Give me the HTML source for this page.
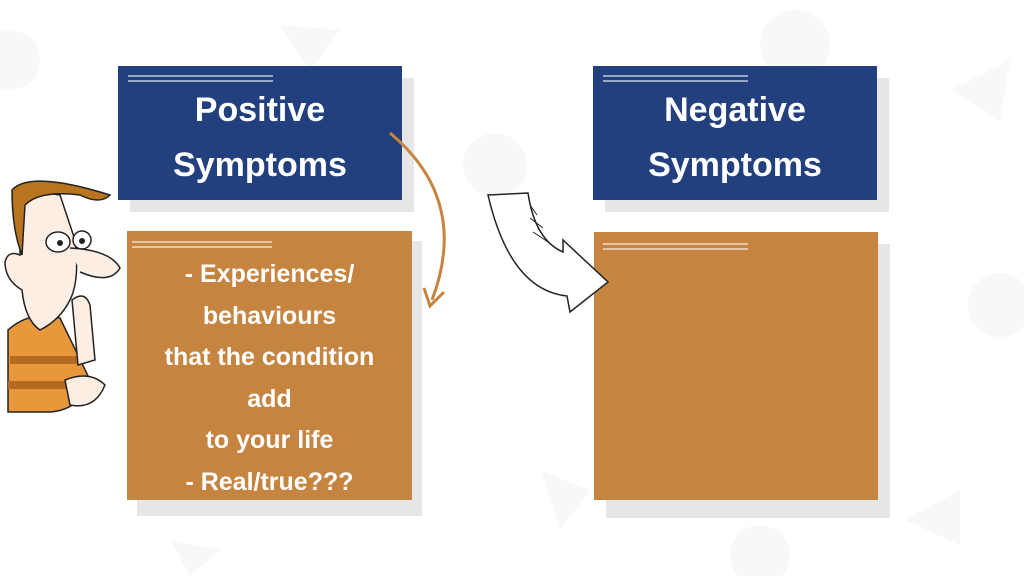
<!DOCTYPE html>
<html><head><style>
body{margin:0;width:1024px;height:576px;background:#fff;position:relative;overflow:hidden;font-family:"Liberation Sans",sans-serif}
.b{position:absolute}
.sh{position:absolute;background:#e6e6e6}
.blue{background:#223f7e;color:#fff;font-weight:bold;font-size:34px;text-align:center;line-height:55px;box-sizing:border-box;padding-top:17px}
.or{background:#c5843f;color:#fff;font-weight:bold;font-size:25px;text-align:center;line-height:41.5px;box-sizing:border-box}
.ln{position:absolute;height:2px;background:rgba(255,255,255,.55)}
</style></head><body>
<svg class="b" style="left:0;top:0" width="1024" height="576">
<g fill="#f8f8f8"><circle cx="10" cy="60" r="30"/><circle cx="795" cy="45" r="35"/><circle cx="495" cy="165" r="32"/><circle cx="1000" cy="305" r="32"/><circle cx="760" cy="555" r="30"/>
<polygon points="950,90 1010,60 1000,120"/><polygon points="280,25 340,30 310,70"/><polygon points="540,470 590,490 560,530"/><polygon points="905,520 960,490 960,545"/><polygon points="170,540 220,550 190,576"/></g>
</svg>
<div class="sh" style="left:130px;top:78px;width:284px;height:134px"></div>
<div class="b blue" style="left:118px;top:66px;width:284px;height:134px">Positive<br>Symptoms</div>
<div class="ln" style="left:128px;top:75px;width:145px"></div><div class="ln" style="left:128px;top:80px;width:145px"></div>
<div class="sh" style="left:605px;top:78px;width:284px;height:134px"></div>
<div class="b blue" style="left:593px;top:66px;width:284px;height:134px">Negative<br>Symptoms</div>
<div class="ln" style="left:603px;top:75px;width:145px"></div><div class="ln" style="left:603px;top:80px;width:145px"></div>
<div class="sh" style="left:137px;top:241px;width:285px;height:275px"></div>
<div class="b or" style="left:127px;top:231px;width:285px;height:269px;padding-top:23px">- Experiences/<br>behaviours<br>that the condition<br>add<br>to your life<br>- Real/true???</div>
<div class="ln" style="left:132px;top:241px;width:140px"></div><div class="ln" style="left:132px;top:246px;width:140px"></div>
<div class="sh" style="left:606px;top:244px;width:284px;height:274px"></div>
<div class="b or" style="left:594px;top:232px;width:284px;height:268px"></div>
<div class="ln" style="left:603px;top:243px;width:145px"></div><div class="ln" style="left:603px;top:248px;width:145px"></div>
<svg class="b" style="left:0;top:0" width="1024" height="576">
<path d="M390,133 Q470,200 432,300" fill="none" stroke="#c5843f" stroke-width="3"/>
<path d="M424,288 L430,306 L444,292" fill="none" stroke="#c5843f" stroke-width="3"/>
<path d="M488,195 L528,193 Q535,240 563,252 L563,240 L608,282 L570,312 L567,296 Q510,290 488,195 Z" fill="#fff" stroke="#222" stroke-width="1.5"/>
<path d="M530,205 L537,215 M530,218 L543,228 M533,232 L548,242" stroke="#222" stroke-width="1"/>
<path d="M8,330 Q30,310 60,318 L90,380 Q80,410 50,412 L8,412 Z" fill="#e8973a" stroke="#222" stroke-width="1.5"/>
<path d="M10,360 L80,360 M8,385 L85,385" stroke="#b56a1f" stroke-width="8"/>
<path d="M20,200 Q30,190 60,195 L75,240 Q80,280 70,300 Q60,320 40,330 Q25,320 22,290 Q5,280 5,262 Q8,250 20,255 Z" fill="#fdeee3" stroke="#222" stroke-width="1.5"/>
<path d="M12,190 Q30,170 110,195 Q100,205 80,195 Q40,190 25,205 L22,255 Q12,230 12,190 Z" fill="#b8741f" stroke="#222" stroke-width="1.5"/>
<ellipse cx="58" cy="242" rx="12" ry="10" fill="#fff" stroke="#222" stroke-width="1.5"/>
<ellipse cx="82" cy="240" rx="9" ry="9" fill="#fff" stroke="#222" stroke-width="1.5"/>
<circle cx="60" cy="243" r="3" fill="#222"/><circle cx="82" cy="241" r="3" fill="#222"/>
<path d="M70,248 Q110,250 120,268 Q110,285 80,272" fill="#fdeee3" stroke="#222" stroke-width="1.5"/>
<path d="M72,300 Q85,290 90,305 L95,360 L78,365 Z" fill="#fdeee3" stroke="#222" stroke-width="1.5"/>
<path d="M65,380 Q90,370 105,385 Q95,410 70,405 Z" fill="#fdeee3" stroke="#222" stroke-width="1.5"/>
</svg>
</body></html>
